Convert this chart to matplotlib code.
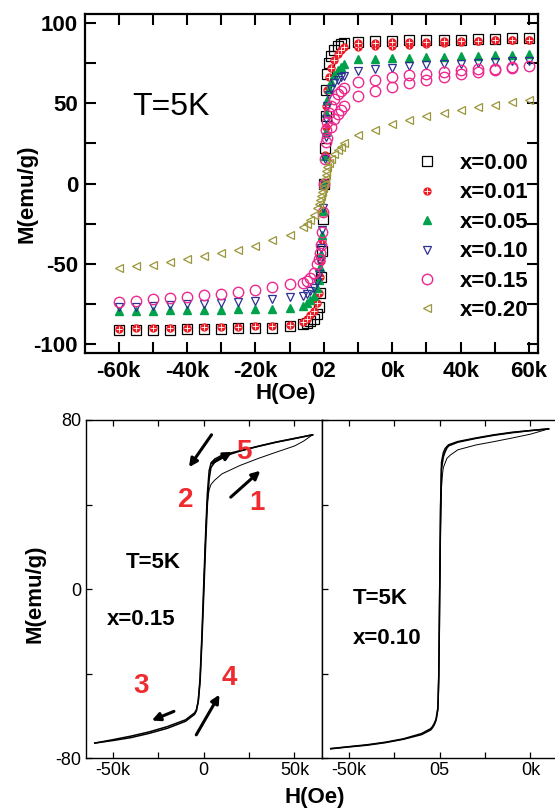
import matplotlib
matplotlib.use('Agg')
import matplotlib.pyplot as plt
from matplotlib.ticker import MultipleLocator

plt.rcParams['font.family'] = ['Liberation Sans', 'DejaVu Sans']

# ---- top panel: M(H) at 5 K for several x (H in kOe) ----
h_neg = [-60, -55, -50, -45, -40, -35, -30, -25, -20, -15, -10]
h_mid = [-6, -5, -4, -3, -2, -1.5, -1, -0.75, -0.5, -0.25, 0, 0.25, 0.5, 0.75, 1, 1.5, 2, 3, 4, 5, 6]
h_pos = [10, 15, 20, 25, 30, 35, 40, 45, 50, 55, 60]

m000_neg = [-91.4, -91.4, -91.0, -90.8, -90.6, -90.4, -90.2, -90.0, -89.8, -89.6, -88.9]
m000_mid = [-87.5, -86.5, -85.5, -84, -81, -77, -68, -58, -42, -22, 0, 22, 42, 58, 68, 75, 79, 83, 85.5, 87, 87.5]
m000_pos = [87.9, 88.5, 88.9, 89.0, 89.1, 89.3, 89.5, 89.7, 90.0, 90.3, 90.6]

m001_neg = [-90.2, -90.1, -90.0, -89.9, -89.7, -89.5, -89.3, -89.1, -88.8, -88.4, -87.8]
m001_mid = [-86, -84, -82, -79, -74, -68, -58, -48, -35, -18, 0, 18, 35, 48, 58, 66, 72, 77, 80.5, 83, 85]
m001_pos = [87.2, 87.5, 87.8, 88.0, 88.2, 88.4, 88.6, 88.8, 89.0, 89.2, 89.4]
m001_pos_b = [84.6, 85.2, 85.8, 86.3, 86.8, 87.3, 87.8, 88.3, 89.0, 89.2, 89.4]

m005_neg = [-79.2, -79.1, -79.0, -78.9, -78.8, -78.7, -78.5, -78.3, -78.1, -77.8, -77.3]
m005_mid = [-76, -74.5, -72.5, -70, -65, -60, -52, -44, -32, -17, 0, 17, 32, 44, 52, 59, 63, 67.5, 70.5, 72.5, 74]
m005_pos = [77.3, 77.7, 78.0, 78.3, 78.6, 78.9, 79.2, 79.5, 79.8, 80.1, 80.4]

m010_neg = [-76.9, -76.5, -76.1, -75.7, -75.2, -74.7, -74.2, -73.5, -72.8, -71.7, -70.7]
m010_mid = [-70, -68.5, -67, -65, -61, -56, -48, -40, -29, -15, 0, 15, 29, 40, 48, 55, 59, 62.5, 64.5, 66, 67]
m010_pos = [69.8, 71.0, 72.0, 72.8, 73.4, 74.0, 74.5, 75.0, 75.5, 76.0, 76.4]

m015_neg = [-73.4, -72.8, -72.1, -71.3, -70.5, -69.4, -68.6, -67.6, -66.1, -64.5, -62.4]
m015_mid = [-62, -60.5, -58.5, -55.5, -50, -47, -43, -38, -30, -18, 0, 15, 26, 33, 38, 44, 48, 52.5, 55.5, 57.5, 59.5]
m015_pos = [63.0, 64.5, 66.1, 67.2, 68.2, 69.5, 70.3, 70.9, 71.5, 72.3, 73.0]
h015_virgin = [1, 2, 3, 4, 5, 6, 10, 15, 20, 25, 30, 35, 40, 45, 50, 55]
m015_virgin = [28, 35, 40, 43.5, 46, 48.5, 54.7, 57.8, 60.3, 62.4, 64.5, 66.5, 68.2, 69.5, 70.6, 71.8]

m020_neg = [-52.7, -51.6, -50.4, -48.9, -46.8, -45.2, -43.3, -41.3, -38.8, -35.4, -31.9]
m020_mid = [-27, -25, -22.5, -19.5, -15.5, -13, -10, -8, -5.5, -3, 0, 3, 5.5, 8, 10, 13, 15.5, 18.5, 21, 23, 25]
m020_pos = [29.9, 33.4, 36.7, 39.6, 41.9, 43.9, 46.0, 47.5, 49.1, 50.6, 52.0]

legend_labels = ['x=0.00', 'x=0.01', 'x=0.05', 'x=0.10', 'x=0.15', 'x=0.20']
top_xticks = [-60, -40, -20, 0, 20, 40, 60]
top_xticklabels = ['-60k', '-40k', '-20k', '02', '0k', '40k', '60k']
top_yticks = [-100, -50, 0, 50, 100]

# ---- bottom panels: hysteresis loops (H in kOe) ----
l15_h_down = [60, 50, 40, 30, 20, 10, 6, 4, 3, 2, 1, 0, -1, -2, -3, -4, -5, -10, -20, -30, -40, -50, -60]
l15_m_down = [73, 71.2, 69.5, 67.5, 65.5, 63.3, 61.5, 59.5, 56, 45, 25, 2, -22, -42, -53, -57.5, -59.2, -62.5, -65.8, -68.2, -70.2, -71.6, -72.8]
l15_h_up = [-60, -50, -40, -30, -20, -10, -5, -4, -3, -2, -1, 0, 1, 2, 3, 4, 6, 10, 20, 30, 40, 50, 60]
l15_m_up = [-72.8, -71.2, -69.5, -67.5, -65.0, -61.8, -58.5, -57, -53, -44, -25, -3, 20, 40, 52, 57.5, 60, 62.5, 65.3, 67.6, 69.6, 71.3, 73]
l15_h_virgin = [0, 0.5, 1, 1.5, 2, 3, 4, 6, 10, 20, 30, 40, 50, 55, 60]
l15_m_virgin = [0, 12, 24, 34, 41, 47, 49.5, 51.5, 54.5, 58.5, 61.8, 64.8, 67.7, 70, 73]

l10_h_down = [60, 50, 40, 30, 20, 10, 5, 4, 3, 2, 1, 0.5, 0, -0.5, -1, -2, -3, -4, -5, -10, -20, -30, -40, -50, -60]
l10_m_down = [75.8, 75, 74.2, 73, 71.5, 69.8, 68.3, 67.5, 66.5, 64.5, 60, 40, 0, -40, -56, -61.5, -63.5, -65, -66, -68.3, -70.8, -72.4, -73.6, -74.5, -75.4]
l10_h_up = [-60, -50, -40, -30, -20, -10, -5, -4, -3, -2, -1, -0.5, 0, 0.5, 1, 2, 3, 4, 5, 10, 20, 30, 40, 50, 60]
l10_m_up = [-75.5, -74.6, -73.8, -72.6, -71, -68.8, -66.6, -65.6, -64.2, -62, -57, -42, -2, 38, 57, 62.5, 65, 66.8, 67.8, 69.5, 71.3, 72.8, 74, 75, 75.8]
l10_h_virgin = [0, 0.5, 1, 1.5, 2, 4, 6, 10, 20, 30, 40, 50, 60]
l10_m_virgin = [0, 30, 48, 54, 57.5, 61.9, 63.5, 65.9, 68.2, 69.8, 71.5, 73.3, 75.8]

fig = plt.figure(figsize=(5.55, 8.11), dpi=100)
W, H = 555.0, 811.0

# ================= top panel =================
ax1 = fig.add_axes([85 / W, 1 - 353 / H, 453 / W, 339 / H])
hh = h_neg + h_mid + h_pos

p0, = ax1.plot(hh, m000_neg + m000_mid + m000_pos, 's', ls='none', mfc='none', mec='black', ms=6.5, mew=0.9)
ax1.plot(h_pos, m001_pos_b, 'o', ls='none', color='#ee1c25', ms=5)
ax1.plot(h_pos, m001_pos_b, '+', ls='none', color='white', ms=4, mew=0.6)
p1a, = ax1.plot(hh, m001_neg + m001_mid + m001_pos, 'o', ls='none', color='#ee1c25', ms=5)
p1b, = ax1.plot(hh, m001_neg + m001_mid + m001_pos, '+', ls='none', color='white', ms=4, mew=0.6)
p2, = ax1.plot(hh, m005_neg + m005_mid + m005_pos, '^', ls='none', color='#00a14b', ms=5.5)
p3, = ax1.plot(hh, m010_neg + m010_mid + m010_pos, 'v', ls='none', mfc='none', mec='#2e3192', ms=5.5, mew=0.9)
ax1.plot(h015_virgin, m015_virgin, 'o', ls='none', mfc='none', mec='#ec2a8f', ms=7.5, mew=1.0)
p4, = ax1.plot(hh, m015_neg + m015_mid + m015_pos, 'o', ls='none', mfc='none', mec='#ec2a8f', ms=7.5, mew=1.0)
p5, = ax1.plot(hh, m020_neg + m020_mid + m020_pos, '<', ls='none', mfc='none', mec='#9a963a', ms=5.5, mew=0.9)

ax1.set_xlim(-69.8, 62.6)
ax1.set_ylim(-105.4, 105.4)
ax1.set_xticks(top_xticks, labels=top_xticklabels, fontsize=16, fontweight='bold')
ax1.set_yticks(top_yticks, labels=[str(v) for v in top_yticks], fontsize=16, fontweight='bold')
ax1.xaxis.set_minor_locator(MultipleLocator(10))
ax1.yaxis.set_minor_locator(MultipleLocator(25))
ax1.tick_params(which='both', direction='in', top=True, right=True, length=8, width=1.5)
ax1.tick_params(axis='x', pad=6)
ax1.tick_params(axis='y', pad=5)
for s in ax1.spines.values():
    s.set_linewidth(1.6)

ax1.text(0.105, 0.726, 'T=5K', transform=ax1.transAxes, fontsize=23, va='center', ha='left')

ax1.legend([p0, (p1a, p1b), p2, p3, p4, p5], legend_labels, loc='upper left',
           bbox_to_anchor=(0.7296, 0.590), frameon=False, prop={'size': 16, 'weight': 'bold'},
           handlelength=1.0, handletextpad=1.0, borderpad=0, borderaxespad=0, labelspacing=0.38)

fig.text(27.4 / W, 1 - 194 / H, 'M(emu/g)', rotation=90, ha='center', va='center', fontsize=16, fontweight='bold')
fig.text(286 / W, 1 - 393 / H, 'H(Oe)', ha='center', va='center', fontsize=16, fontweight='bold')

# ================= bottom panels =================
ax2 = fig.add_axes([85.7 / W, 1 - 758.3 / H, 236 / W, 338.3 / H])
ax3 = fig.add_axes([321.7 / W, 1 - 758.3 / H, 236 / W, 338.3 / H])

ax2.plot(l15_h_down, l15_m_down, color='black', lw=1.1)
ax2.plot(l15_h_up, l15_m_up, color='black', lw=1.1)
ax2.plot(l15_h_virgin, l15_m_virgin, color='black', lw=0.7)

ax3.plot(l10_h_down, l10_m_down, color='black', lw=1.1)
ax3.plot(l10_h_up, l10_m_up, color='black', lw=1.1)
ax3.plot(l10_h_virgin, l10_m_virgin, color='black', lw=0.7)

for ax, xlabels in ((ax2, ['-50k', '0', '50k']), (ax3, ['-50k', '05', '0k'])):
    ax.set_xlim(-65, 65)
    ax.set_ylim(-80, 80)
    ax.set_xticks([-50, 0, 50], labels=xlabels, fontsize=13)
    ax.set_yticks([-80, 0, 80], labels=['-80', '0', '80'], fontsize=13)
    ax.xaxis.set_minor_locator(MultipleLocator(25))
    ax.yaxis.set_minor_locator(MultipleLocator(40))
    ax.tick_params(which='both', direction='in', top=True, right=False, length=4, width=0.9)
    ax.tick_params(axis='x', pad=3)
    ax.tick_params(axis='y', pad=3)
    for s in ax.spines.values():
        s.set_linewidth(1.0)
ax3.tick_params(axis='y', labelleft=False)

# red step numbers and arrows on the x=0.15 loop
red = '#ee2b2e'
for txt, pos in (('1', (29.3, 40.6)), ('2', (-10, 42.2)), ('3', (-34.6, -46)),
                 ('4', (14.2, -42.1)), ('5', (22.4, 65.0))):
    ax2.text(pos[0], pos[1], txt, color=red, fontsize=20, fontweight='bold', ha='center', va='center')

arrows = [((4.3, 73.0), (-8.1, 57.7)),
          ((4.6, 59.7), (15.7, 64.9)),
          ((14.9, 43.5), (31.2, 56.0)),
          ((-16.4, -57.8), (-28.6, -62.1)),
          ((-4.1, -68.9), (8.7, -49.9))]
for tail, head in arrows:
    ax2.annotate('', xy=head, xytext=tail,
                 arrowprops=dict(arrowstyle='-|>', color='black', lw=2.2, mutation_scale=12,
                                 shrinkA=0, shrinkB=0))

ax2.text(-27.7, 12.6, 'T=5K', fontsize=16, fontweight='bold', ha='center', va='center')
ax2.text(-34.5, -14.2, 'x=0.15', fontsize=16, fontweight='bold', ha='center', va='center')
ax3.text(-33, -4.3, 'T=5K', fontsize=16, fontweight='bold', ha='center', va='center')
ax3.text(-28.7, -23.2, 'x=0.10', fontsize=16, fontweight='bold', ha='center', va='center')

fig.text(34.6 / W, 1 - 593.3 / H, 'M(emu/g)', rotation=90, ha='center', va='center', fontsize=16, fontweight='bold')
fig.text(315 / W, 1 - 797 / H, 'H(Oe)', ha='center', va='center', fontsize=16, fontweight='bold')

fig.savefig('out.png', dpi=100)
